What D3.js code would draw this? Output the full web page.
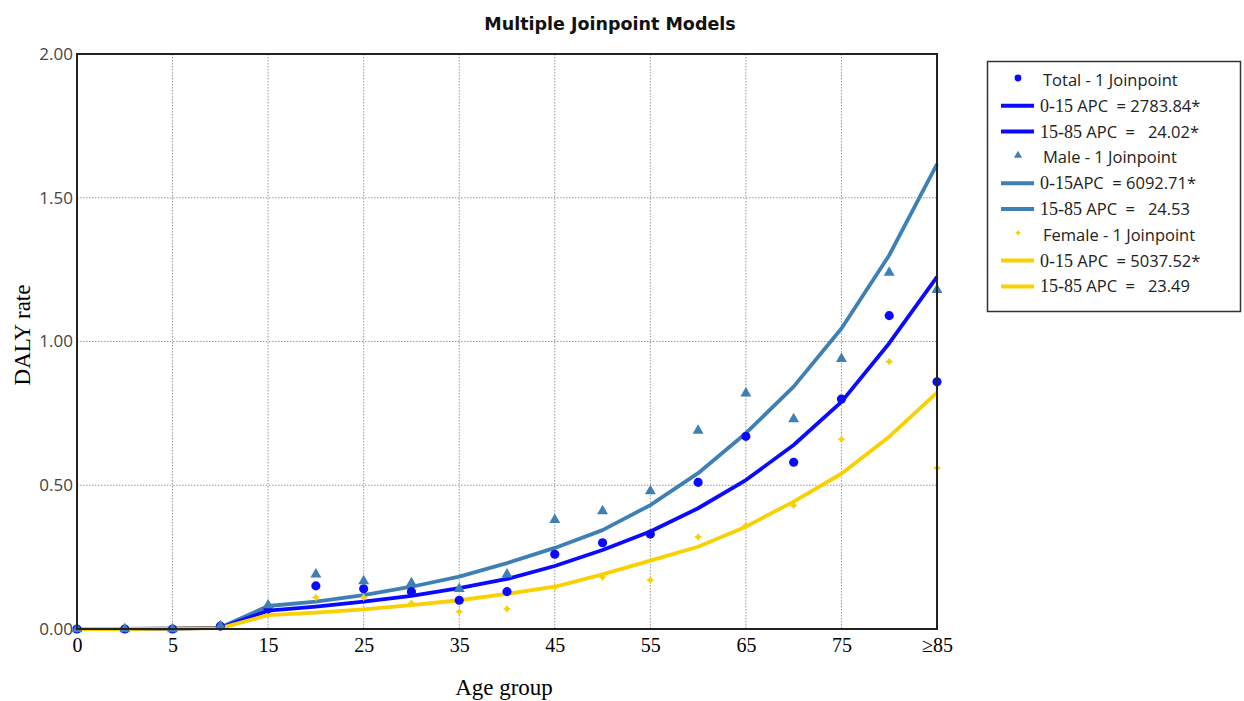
<!DOCTYPE html>
<html>
<head>
<meta charset="utf-8">
<script src="https://cdn.jsdelivr.net/npm/d3@7"></script>
<style>
  body { margin: 0; background: #fff; }
</style>
</head>
<body>
<div id="chart"></div>
<script>
// age groups (19 categories, every other one labelled)
var ageGroups = ["0","1","5","10","15","20","25","30","35","40","45","50","55","60","65","70","75","80","85"];
var tickLabels = ["0","5","15","25","35","45","55","65","75","≥85"];
var yTicks = [0, 0.5, 1, 1.5, 2];

// observed rates
var totalObs  = [0, 0, 0, 0.01, 0.07, 0.15, 0.14, 0.13, 0.10, 0.13, 0.26, 0.30, 0.33, 0.51, 0.67, 0.58, 0.80, 1.09, 0.86];
var maleObs   = [0, 0, 0, 0.01, 0.083, 0.19, 0.167, 0.16, 0.14, 0.19, 0.38, 0.41, 0.48, 0.69, 0.82, 0.73, 0.94, 1.24, 1.18];
var femaleObs = [0, 0, 0, 0.005, 0.05, 0.11, 0.11, 0.09, 0.06, 0.07, 0.145, 0.18, 0.17, 0.32, 0.36, 0.43, 0.66, 0.93, 0.56];

// joinpoint model fits
var totalFit  = [0, 0, 0.001, 0.004, 0.064, 0.078, 0.095, 0.115, 0.142, 0.174, 0.219, 0.275, 0.339, 0.42, 0.518, 0.64, 0.79, 0.994, 1.225];
var maleFit   = [0, 0, 0.001, 0.005, 0.08, 0.095, 0.118, 0.147, 0.182, 0.229, 0.282, 0.344, 0.431, 0.542, 0.681, 0.843, 1.045, 1.30, 1.617];
var femaleFit = [0, 0, 0.001, 0.003, 0.048, 0.057, 0.068, 0.083, 0.10, 0.122, 0.147, 0.19, 0.238, 0.286, 0.356, 0.443, 0.54, 0.669, 0.822];

var legendRows = [
  {type: "dot", series: "total", label: "Total - 1 Joinpoint"},
  {type: "line", series: "total", a: "0-15", b: " APC  = 2783.84*"},
  {type: "line", series: "total", a: "15-85", b: " APC  =   24.02*"},
  {type: "dot", series: "male", label: "Male - 1 Joinpoint"},
  {type: "line", series: "male", a: "0-15", b: "APC  = 6092.71*"},
  {type: "line", series: "male", a: "15-85", b: " APC  =   24.53"},
  {type: "dot", series: "female", label: "Female - 1 Joinpoint"},
  {type: "line", series: "female", a: "0-15", b: " APC  = 5037.52*"},
  {type: "line", series: "female", a: "15-85", b: " APC  =   23.49"}
];

// small four-pointed star used for the female markers
var star4 = {
  draw: function(context, size){
    var r = Math.sqrt(size) / 1.6, q = r * 0.38;
    context.moveTo(0, -r);
    context.lineTo(q, -q);
    context.lineTo(r, 0);
    context.lineTo(q, q);
    context.lineTo(0, r);
    context.lineTo(-q, q);
    context.lineTo(-r, 0);
    context.lineTo(-q, -q);
    context.closePath();
  }
};

var colors = {total: "#0a0aff", male: "#3f80b4", female: "#f9d000"};
var symbols = {total: d3.symbolCircle, male: d3.symbolTriangle, female: star4};
var symSize = {total: 66, male: 52, female: 40};

var W = 1244, H = 701;
var pLeft = 77, pRight = 937, pTop = 54, pBottom = 629;
var sans = "'Open Sans', 'Liberation Sans', sans-serif";
var serif = "'Liberation Serif', 'DejaVu Serif', serif";

var svg = d3.select("#chart").append("svg").attr("width", W).attr("height", H);

var x = d3.scalePoint().domain(ageGroups).range([pLeft, pRight]);
var y = d3.scaleLinear().domain([0, 2]).range([pBottom, pTop]);

// title
svg.append("text")
  .attr("x", 610).attr("y", 30)
  .attr("text-anchor", "middle")
  .attr("font-family", "'DejaVu Sans', Verdana, sans-serif").attr("font-weight", "bold").attr("font-size", 17.5)
  .attr("fill", "#111")
  .text("Multiple Joinpoint Models");

// grid
var grid = svg.append("g");
grid.selectAll("line.v")
  .data(ageGroups.filter(function(d, i){ return i % 2 == 0 && i > 0 && i < 18; }))
  .enter().append("line")
  .attr("x1", function(d){ return x(d); }).attr("x2", function(d){ return x(d); })
  .attr("y1", pTop).attr("y2", pBottom)
  .attr("stroke", "#999").attr("stroke-dasharray", "1.5,1.5");
grid.selectAll("line.h")
  .data(yTicks.filter(function(d){ return d > 0 && d < 2; }))
  .enter().append("line")
  .attr("y1", function(d){ return y(d); }).attr("y2", function(d){ return y(d); })
  .attr("x1", pLeft).attr("x2", pRight)
  .attr("stroke", "#999").attr("stroke-dasharray", "1.5,1.5");

// axes
var xAxis = d3.axisBottom(x)
  .tickValues(ageGroups.filter(function(d, i){ return i % 2 == 0; }))
  .tickSize(0).tickPadding(9)
  .tickFormat(function(d){ return tickLabels[ageGroups.indexOf(d) / 2]; });
var gx = svg.append("g").attr("transform", "translate(0," + pBottom + ")").call(xAxis);
gx.select(".domain").remove();
gx.selectAll("text").attr("font-family", serif).attr("font-size", 20).attr("fill", "#000");

var yAxis = d3.axisLeft(y).tickValues(yTicks).tickSize(0).tickPadding(4).tickFormat(d3.format(".2f"));
var gy = svg.append("g").attr("transform", "translate(" + pLeft + ",0)").call(yAxis);
gy.select(".domain").remove();
gy.selectAll("text").attr("font-family", sans).attr("font-size", 17).attr("fill", "#444");

// fitted lines
var line = d3.line()
  .x(function(d, i){ return x(ageGroups[i]); })
  .y(function(d){ return y(d); });

var fits = [["male", maleFit], ["total", totalFit], ["female", femaleFit]];
fits.forEach(function(f){
  svg.append("path")
    .attr("d", line(f[1]))
    .attr("fill", "none")
    .attr("stroke", colors[f[0]])
    .attr("stroke-width", 3.8)
    .attr("stroke-linejoin", "round");
});

// observed points
var obs = [["female", femaleObs], ["total", totalObs], ["male", maleObs]];
obs.forEach(function(o){
  svg.append("g").selectAll("path")
    .data(o[1])
    .enter().append("path")
    .attr("transform", function(d, i){ return "translate(" + x(ageGroups[i]) + "," + y(d) + ")"; })
    .attr("d", d3.symbol().type(symbols[o[0]]).size(symSize[o[0]]))
    .attr("fill", colors[o[0]]);
});

// frame
svg.append("rect")
  .attr("x", pLeft).attr("y", pTop)
  .attr("width", pRight - pLeft).attr("height", pBottom - pTop)
  .attr("fill", "none").attr("stroke", "#222").attr("stroke-width", 2);

// axis titles
svg.append("text")
  .attr("x", 504).attr("y", 695)
  .attr("text-anchor", "middle")
  .attr("font-family", serif).attr("font-size", 23)
  .text("Age group");
svg.append("text")
  .attr("transform", "translate(30," + 335 + ") rotate(-90)")
  .attr("text-anchor", "middle")
  .attr("font-family", serif).attr("font-size", 23)
  .text("DALY rate");

// legend
var lg = svg.append("g");
lg.append("rect")
  .attr("x", 987.5).attr("y", 61.5).attr("width", 253).attr("height", 250)
  .attr("fill", "#fff").attr("stroke", "#333").attr("stroke-width", 1.5);

legendRows.forEach(function(r, i){
  var cy = 80 + i * 25.8;
  if (r.type == "dot") {
    lg.append("path")
      .attr("transform", "translate(1018," + (cy - 2) + ")")
      .attr("d", d3.symbol().type(symbols[r.series]).size(symSize[r.series] * 0.55))
      .attr("fill", colors[r.series]);
    lg.append("text")
      .attr("x", 1043).attr("y", cy + 6)
      .attr("font-family", sans).attr("font-size", 16.5).attr("fill", "#222")
      .text(r.label);
  } else {
    lg.append("line")
      .attr("x1", 1001).attr("x2", 1034)
      .attr("y1", cy).attr("y2", cy)
      .attr("stroke", colors[r.series]).attr("stroke-width", 4);
    var t = lg.append("text")
      .attr("x", 1040).attr("y", cy + 6)
      .attr("fill", "#222").attr("xml:space", "preserve")
      .style("white-space", "pre");
    t.append("tspan").attr("font-family", serif).attr("font-size", 18).text(r.a);
    t.append("tspan").attr("font-family", sans).attr("font-size", 16.5).text(r.b);
  }
});
</script>
</body>
</html>
